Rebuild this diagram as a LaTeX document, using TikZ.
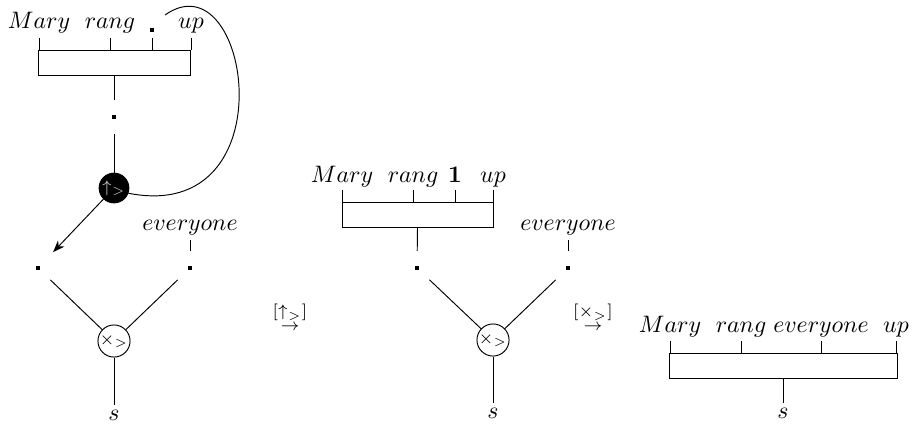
\documentclass[tikz,border=0pt]{standalone}
\usepackage{amsmath,amssymb}
\usetikzlibrary{arrows.meta,positioning,fit}
\definecolor{inkBlack}{RGB}{0, 0, 0}
\definecolor{glyphGrey}{RGB}{200, 200, 200}

\begin{document}
\begin{tikzpicture}[x=0.42pt, y=-0.42pt, line width=0.4pt, draw=inkBlack,
    word/.style={anchor=base, inner sep=2pt},
    wbox/.style={draw, inner sep=0pt},
    dotpt/.style={circle, inner sep=0pt, minimum size=14pt},
    opnode/.style={circle, draw, inner sep=0pt, minimum size=12.5pt, font=\scriptsize},
    blackop/.style={opnode, fill=inkBlack, text=glyphGrey},
    rewrite/.style={inner sep=0pt}]
    \useasboundingbox (0,0) rectangle (915,427);

    % first diagram
    \node[word] (m1) at (39,28) {$Mary$};
    \node[word] (r1) at (110,28) {$rang$};
    \node[dotpt] (d0) at (152,30) {\rule{1.5pt}{1.5pt}};
    \node[word] (u1) at (191,28) {$up$};
    \node[wbox, fit={(38,50) (190,75)}] (box1) {};
    \foreach \w in {m1,r1,d0,u1}
        \draw (box1.north -| \w) -- ++(0,-12);
    \node[dotpt] (d1) at (114,117) {\rule{1.5pt}{1.5pt}};
    \node[blackop] (op1) at (114,188) {$\uparrow_{>}$};
    \coordinate (hook) at (165,15);
    \draw (box1.south) -- (d1);
    \draw (d1) -- (op1);
    \draw (op1.-20) .. controls (290,225) and (250,-45) .. (hook);

    \node[dotpt] (d2) at (38,268) {\rule{1.5pt}{1.5pt}};
    \node[dotpt] (d3) at (190,268) {\rule{1.5pt}{1.5pt}};
    \node[word] (ev1) at (190,230) {$everyone$};
    \node[opnode] (op2) at (114,341) {$\times_{>}$};
    \node[word] (s1) at (114,420) {$s$};
    \draw[-{Stealth[length=5pt]}, shorten >=2pt] (op1) -- (d2);
    \draw (ev1.south) -- (d3);
    \draw (d2) -- (op2);
    \draw (d3) -- (op2);
    \draw (op2) -- (s1);

    % rewrite steps
    \node[rewrite] (t1) at (290,316) {$\stackrel{[\uparrow_{>}]}{\scriptstyle\rightarrow}$};
    \node[rewrite] (t2) at (593,316) {$\stackrel{[\times_{>}]}{\scriptstyle\rightarrow}$};

    % second diagram
    \node[word] (m2) at (342,182) {$Mary$};
    \node[word] (r2) at (413,182) {$rang$};
    \node[word] (one) at (455,182) {$\mathbf{1}$};
    \node[word] (u2) at (493,182) {$up$};
    \node[wbox, fit={(342,202) (493,227)}] (box2) {};
    \foreach \w in {m2,r2,one,u2}
        \draw (box2.north -| \w) -- ++(0,-12);
    \node[dotpt] (d4) at (417,268) {\rule{1.5pt}{1.5pt}};
    \node[dotpt] (d5) at (568,268) {\rule{1.5pt}{1.5pt}};
    \node[word] (ev2) at (568,230) {$everyone$};
    \node[opnode] (op3) at (493,340) {$\times_{>}$};
    \node[word] (s2) at (493,418) {$s$};
    \draw (box2.south) -- (d4);
    \draw (ev2.south) -- (d5);
    \draw (d4) -- (op3);
    \draw (d5) -- (op3);
    \draw (op3) -- (s2);

    % third diagram
    \node[word] (m3) at (670,332) {$Mary$};
    \node[word] (r3) at (741,332) {$rang$};
    \node[word] (ev3) at (821,332) {$everyone$};
    \node[word] (u3) at (896,332) {$up$};
    \node[wbox, fit={(669,353) (897,378)}] (box3) {};
    \foreach \w in {m3,r3,ev3,u3}
        \draw (box3.north -| \w) -- ++(0,-12);
    \node[word] (s3) at (783,418) {$s$};
    \draw (box3.south) -- (s3);
\end{tikzpicture}
\end{document}
